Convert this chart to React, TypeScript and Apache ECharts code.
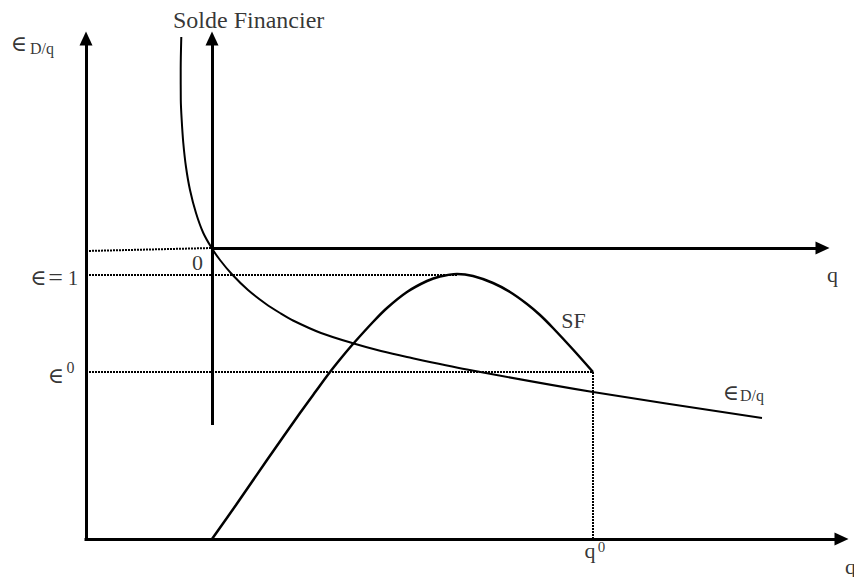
import React, { useEffect, useRef } from "react";
import * as echarts from "echarts";

// Elasticity curve ∈ D/q (q, ∈)
const elasticityQ = [95.3, 94.7, 94.8, 95.7, 97.3, 100, 104, 110, 117.3, 125.7, 134, 145.7, 162, 180, 194, 207, 235, 266, 295, 321, 381, 507, 676];
const elasticityE = [502, 470, 439, 419, 396, 372, 349, 326, 306, 291, 279, 265, 249, 235, 226, 218.5, 206, 196, 188, 182, 169.5, 147, 121];

// Solde financier curve SF (q, value)
const soldeQ = [126, 150, 181, 214, 230, 244, 256, 267, 287, 301, 321, 341, 354, 371, 387, 407, 424, 441, 454, 467, 487, 507];
const soldeS = [0, 34, 79, 126, 148, 167, 182, 195, 217, 231, 247, 258, 262.5, 265, 263, 256, 247, 235, 224, 211, 189.5, 167];

// Axes (start / end points in chart units)
const axisStart: [number, number][] = [[0, -1.5], [-1.5, 0], [126, 114], [126, 291]];
const axisEnd: [number, number][] = [[0, 500.5], [755.5, 0], [126, 500.5], [736.5, 291]];

// Dotted guide lines
const guideStart: [number, number][] = [[0, 288], [0, 264], [0, 167], [507, 167]];
const guideEnd: [number, number][] = [[126, 291], [371, 264], [507, 167], [507, 0]];

// Annotation texts
const labelTexts = ["Solde Financier", "∈", "D/q", "0", "∈", "=", "1", "∈", "0", "SF", "q", "∈", "D/q", "q", "0", "q"];
const labelQ = [87, -67, -56, 111.5, -47.5, -30.5, -13, -30, -15.5, 487.5, 746.5, 645, 654, 504, 515.5, 759];
const labelE = [519, 496, 491, 276.5, 262, 262, 261, 164, 172, 218.5, 265, 147, 143.5, -11.6, -8, -27.6];

const labelFont = [24, 22, 16, 22, 22, 26, 21, 22, 16, 22, 22, 22, 16, 22, 15, 22];
const labelAlign = ["left", "center", "left", "center", "center", "center", "center", "center", "center", "center", "center", "center", "left", "center", "center", "left"];

const FONT = "'Liberation Serif', 'DejaVu Serif', 'Times New Roman', serif";

export default function App() {
  const ref = useRef<HTMLDivElement>(null);
  useEffect(() => {
    if (!ref.current) return;
    document.body.style.margin = "0";
    const chart = echarts.init(ref.current, undefined, { renderer: "svg" });
    const option = {
      animation: false,
      backgroundColor: "#ffffff",
      grid: { left: 0, right: 0, top: 0, bottom: 0, containLabel: false },
      xAxis: { type: "value", min: -86, max: 768, show: false },
      yAxis: { type: "value", min: -38, max: 539, show: false },
      tooltip: { show: false },
      series: [
        {
          type: "line",
          name: "∈D/q",
          data: elasticityQ.map((q, i) => [q, elasticityE[i]]),
          smooth: 0.3,
          symbol: "none",
          showSymbol: false,
          silent: true,
          lineStyle: { color: "#000", width: 2 },
          z: 3,
        },
        {
          type: "line",
          name: "SF",
          data: soldeQ.map((q, i) => [q, soldeS[i]]),
          smooth: 0.3,
          symbol: "none",
          showSymbol: false,
          silent: true,
          lineStyle: { color: "#000", width: 2.5 },
          z: 3,
        },
        {
          type: "line",
          name: "guides",
          data: [],
          silent: true,
          markLine: {
            silent: true,
            symbol: ["none", "none"],
            label: { show: false },
            emphasis: { disabled: true },
            lineStyle: { color: "#000", width: 2, type: [2, 1] },
            data: guideStart.map((s, i) => [{ coord: s }, { coord: guideEnd[i] }]),
          },
        },
        {
          type: "line",
          name: "axes",
          data: [],
          silent: true,
          markLine: {
            silent: true,
            symbol: ["none", "triangle"],
            symbolSize: [13, 14],
            label: { show: false },
            emphasis: { disabled: true },
            lineStyle: { color: "#000", width: 3, type: "solid" },
            data: axisStart.map((s, i) => [{ coord: s }, { coord: axisEnd[i] }]),
          },
        },
        {
          type: "scatter",
          name: "labels",
          silent: true,
          symbolSize: 1,
          itemStyle: { color: "rgba(0,0,0,0)" },
          label: {
            show: true,
            position: "inside",
            verticalAlign: "middle",
            color: "#000",
            fontFamily: FONT,
          },
          data: labelTexts.map((t, i) => ({
            value: [labelQ[i], labelE[i]],
            label: { formatter: t, fontSize: labelFont[i], align: labelAlign[i] },
          })),
          z: 5,
        },
      ],
    };
    chart.setOption(option as any);
    return () => chart.dispose();
  }, []);
  return (
    <div style={{ position: "fixed", left: 0, top: 0, width: 854, height: 577, background: "#fff" }}>
      <div ref={ref} style={{ width: 854, height: 577 }} />
    </div>
  );
}
